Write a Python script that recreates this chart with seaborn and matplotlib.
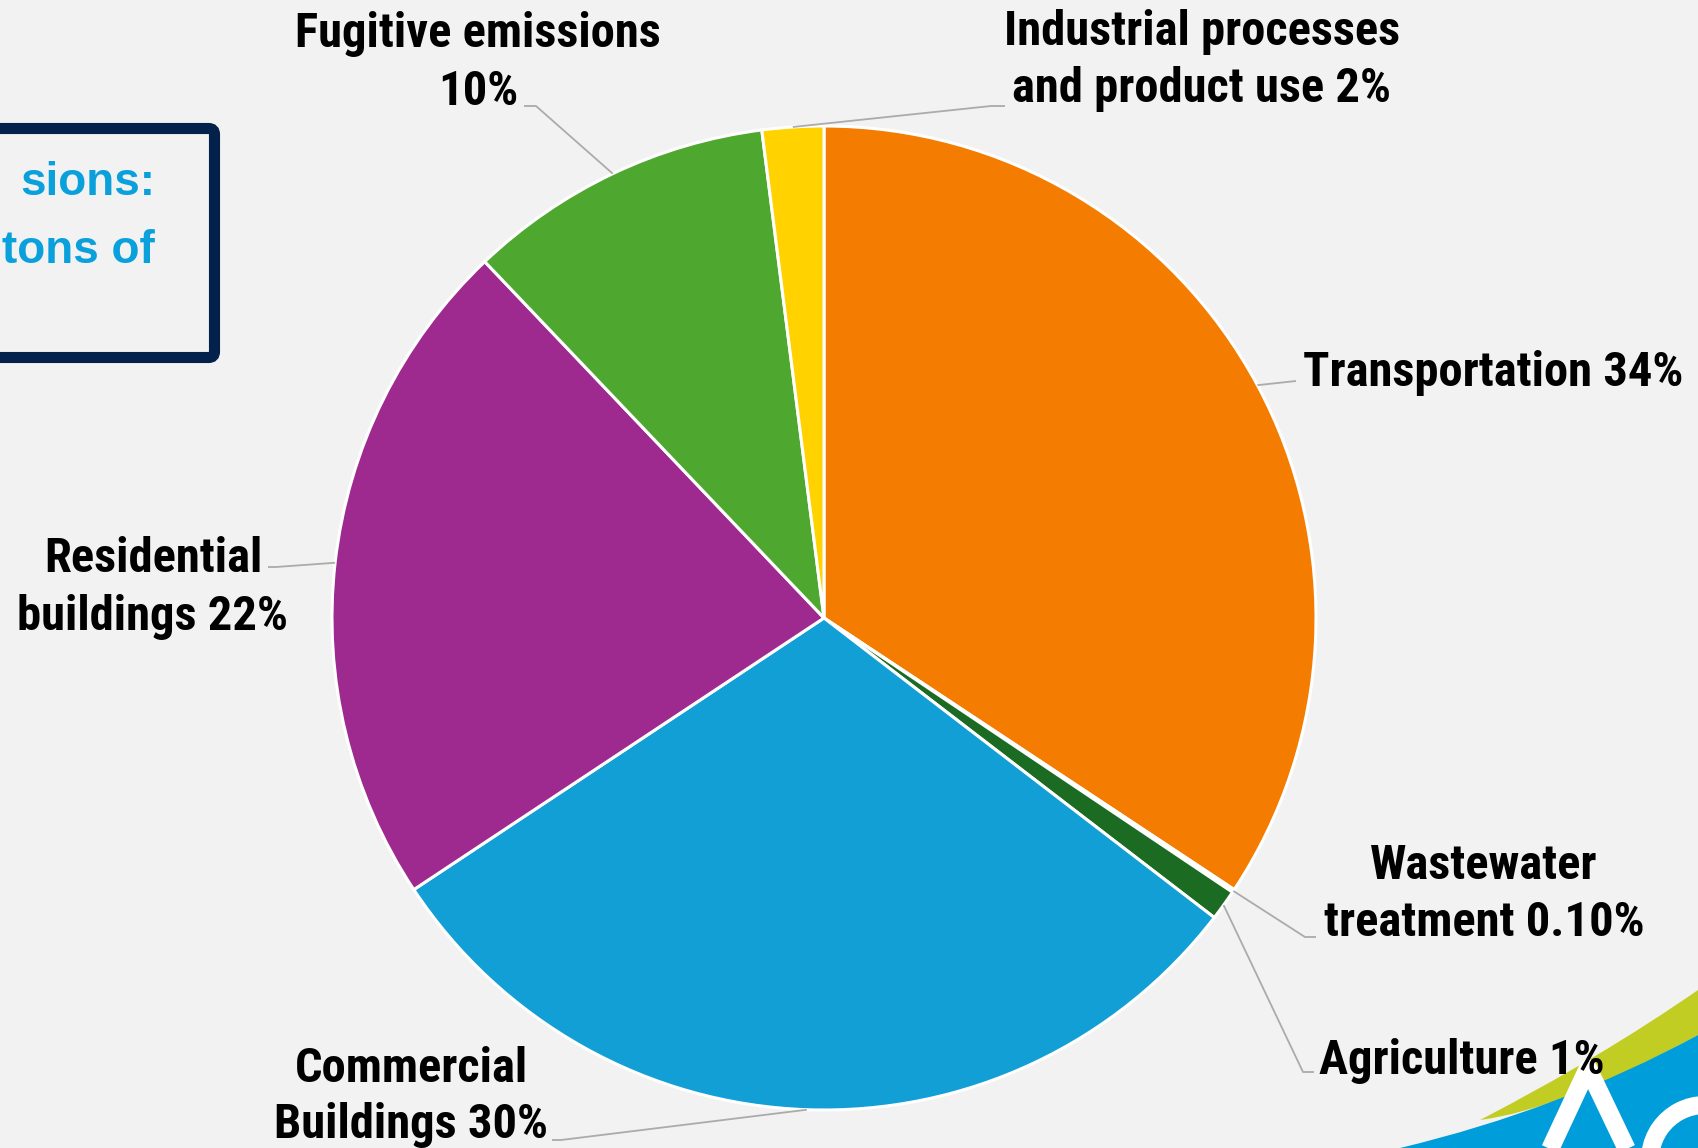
import numpy as np
import matplotlib
matplotlib.use("Agg")
import matplotlib.pyplot as plt
import seaborn as sns
from matplotlib import font_manager
from matplotlib.patches import FancyBboxPatch, PathPatch, Arc
from matplotlib.path import Path

# ---------------- data ----------------
categories = ["Transportation", "Wastewater treatment", "Agriculture",
              "Commercial Buildings", "Residential buildings",
              "Fugitive emissions", "Industrial processes and product use"]
values = [34, 0.1, 1, 30, 22, 10, 2]
label_texts = ["Transportation 34%", "Wastewater\ntreatment 0.10%", "Agriculture 1%",
               "Commercial\nBuildings 30%", "Residential\nbuildings 22%",
               "Fugitive emissions\n10%", "Industrial processes\nand product use 2%"]
colors = ["#F47C00", "#1B6B23", "#1B6B23", "#119FD6", "#9E2A8F", "#4EA72E", "#FFD200"]

sns.set_theme(style="white")

def pick_family(cands):
    for c in cands:
        try:
            font_manager.findfont(font_manager.FontProperties(family=c, weight="bold"),
                                  fallback_to_default=False)
            return c
        except Exception:
            continue
    return "DejaVu Sans"

LABEL_FAMILY = pick_family(["Liberation Sans Narrow", "Roboto Condensed", "Lato", "Roboto"])
plt.rcParams['font.family'] = [LABEL_FAMILY, 'DejaVu Sans']

W, H = 1698, 1148
BG = "#F2F2F2"
fig = plt.figure(figsize=(W / 100, H / 100), dpi=100, facecolor=BG)
ax = fig.add_axes([0, 0, 1, 1])
ax.set_facecolor(BG)

cx, cy, R = 824, H - 618, 492
wedges, _ = ax.pie(values, colors=colors, startangle=90, counterclock=False,
                   center=(cx, cy), radius=R, frame=True,
                   wedgeprops=dict(edgecolor="white", linewidth=2.2))
ax.set_xlim(0, W)
ax.set_ylim(0, H)
ax.set_aspect("equal")
ax.axis("off")

def Y(y):
    return H - y

# fit label font size so that "Transportation 34%" is ~381 px wide
renderer = fig.canvas.get_renderer()
probe = ax.text(0, 0, label_texts[0], fontsize=30, fontweight="bold")
wpx = probe.get_window_extent(renderer=renderer).width
probe.remove()
FS = 30 * 381.0 / wpx

# label layout: (x, line centre ys, ha, elbow point, end point) in pixel coords (top-left origin)
layout = {
    0: dict(x=1303, ys=[368], ha="left", elbow=(1296, 381), end=None),
    1: dict(x=1484, ys=[861, 918], ha="center", elbow=(1305, 937), end=(1316, 937)),
    2: dict(x=1319, ys=[1056], ha="left", elbow=(1303, 1072), end=(1314, 1072)),
    3: dict(x=411, ys=[1064, 1120], ha="center", elbow=(561, 1140), end=(552, 1140)),
    4: dict(x=153, ys=[554, 612], ha="center", elbow=(276, 567), end=(268, 567)),
    5: dict(x=478, ys=[29, 87], ha="center", elbow=(536, 106), end=(524, 106)),
    6: dict(x=1202, ys=[27, 84], ha="center", elbow=(991, 106), end=(1005, 106)),
}

for i, w in enumerate(wedges):
    L = layout[i]
    for line, yy in zip(label_texts[i].split("\n"), L["ys"]):
        ax.text(L["x"], Y(yy), line, ha=L["ha"], va="center_baseline",
                fontsize=FS, fontweight="bold", color="black")
    ang = np.deg2rad((w.theta1 + w.theta2) / 2)
    ax_ = cx + R * np.cos(ang)
    ay_ = cy + R * np.sin(ang)
    xs = [ax_, L["elbow"][0]]
    ys = [ay_, Y(L["elbow"][1])]
    if L["end"] is not None:
        xs.append(L["end"][0]); ys.append(Y(L["end"][1]))
    ax.plot(xs, ys, color="#ABABAB", lw=1.3, solid_capstyle="butt")

# ---------- decorative box (cropped at the left edge) ----------
box = FancyBboxPatch((-60, Y(357.5)), 60 + 214.5, 357.5 - 128.5,
                     boxstyle="round,pad=0,rounding_size=6",
                     facecolor="none", edgecolor="#03214A", linewidth=8,
                     transform=ax.transData, clip_on=False)
ax.add_patch(box)
BOX_FONT = ["Liberation Sans", "DejaVu Sans"]
ax.text(155, Y(195), "sions:", ha="right", va="baseline", fontsize=33,
        fontweight="bold", color="#0AA0DC", family=BOX_FONT)
ax.text(155, Y(263), "tons of", ha="right", va="baseline", fontsize=33,
        fontweight="bold", color="#0AA0DC", family=BOX_FONT)

# ---------- decorative logo bottom right ----------
blue_path = Path([(1400, Y(1148)), (1560, Y(1110)), (1698, Y(1035)),
                  (1698, Y(1148)), (1400, Y(1148))],
                 [Path.MOVETO, Path.CURVE3, Path.CURVE3, Path.LINETO, Path.CLOSEPOLY])
yel_path = Path([(1480, Y(1120)), (1600, Y(1058)), (1698, Y(990)),
                 (1698, Y(1035)), (1560, Y(1110)), (1480, Y(1120)), (1480, Y(1120))],
                [Path.MOVETO, Path.CURVE3, Path.CURVE3, Path.LINETO,
                 Path.CURVE3, Path.CURVE3, Path.CLOSEPOLY])
ax.add_patch(PathPatch(yel_path, facecolor="#C2CD23", edgecolor="none", clip_on=False))
ax.add_patch(PathPatch(blue_path, facecolor="#009DDB", edgecolor="none", clip_on=False))
ax.plot([1545, 1588, 1632], [Y(1160), Y(1068), Y(1160)], color="white", lw=13,
        solid_joinstyle="round", solid_capstyle="butt")
ax.add_patch(Arc((1705, Y(1160)), 110, 110, theta1=90, theta2=200,
                 color="white", lw=13, clip_on=False))

fig.savefig("out.png", dpi=100, facecolor=BG)
